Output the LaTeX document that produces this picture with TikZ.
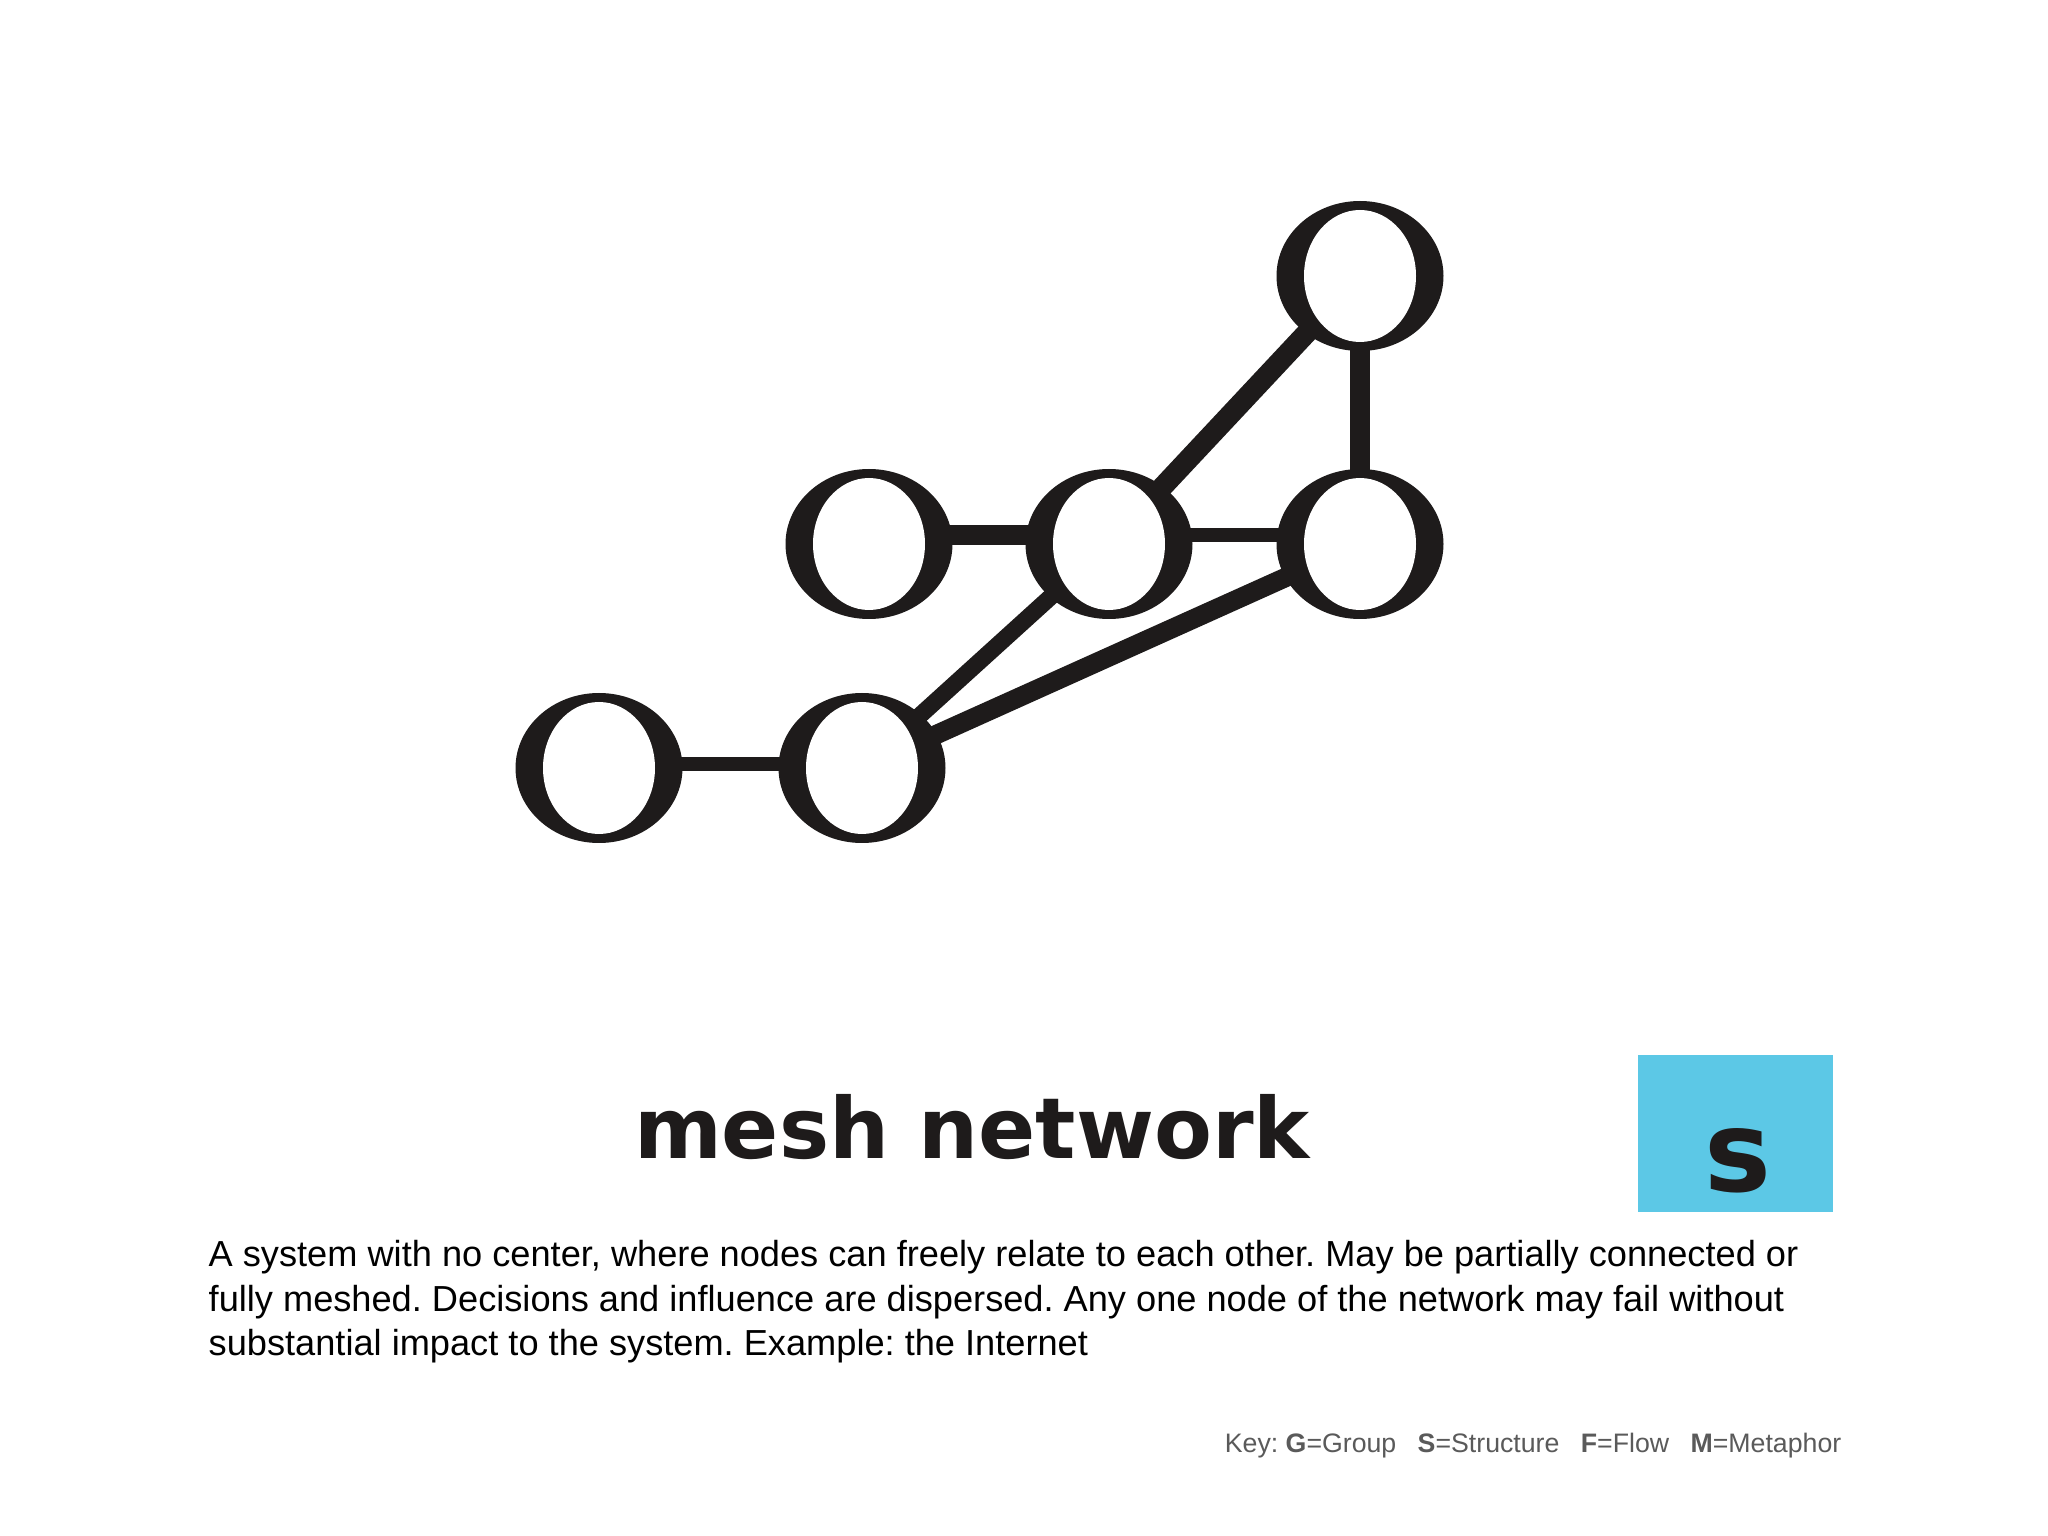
\documentclass[tikz,border=0pt]{standalone}
\usepackage{fontspec}
\setmainfont{Liberation Sans}
\newfontfamily\titlefont{DejaVu Sans}
\usetikzlibrary{positioning,shapes.geometric,backgrounds}
\definecolor{inkblack}{RGB}{30,27,27}
\definecolor{tagblue}{RGB}{92,200,230}
\definecolor{keygray}{RGB}{90,90,90}
\tikzset{
	ring/.style={ellipse, fill=inkblack, inner sep=0pt, minimum width=1.67cm, minimum height=1.5cm,
		path picture={\fill[white, shift={(path picture bounding box.center)}, rotate=14] (0,0) ellipse (0.56cm and 0.66cm);}},
	link/.style={draw=inkblack, line width=#1},
}

\begin{document}
\frenchspacing
\begin{tikzpicture}
	\useasboundingbox (0,0) rectangle (20.48,-15.36);

	% the mesh
	\node (tr) [ring] at (13.60,-2.76) {};
	\node (rm) [ring] at (13.60,-5.44) {};
	\node (m) [ring] at (11.09,-5.44) {};
	\node (lm) [ring] at (8.69,-5.44) {};
	\node (bl) [ring] at (5.99,-7.68) {};
	\node (bm) [ring] at (8.62,-7.68) {};

	\begin{scope}[on background layer]
		\fill[white] (0,0) rectangle (20.48,-15.36);
		\draw[link=5.7pt] ([yshift=0.09cm]lm.center) -- ([yshift=0.09cm]m.center);
		\draw[link=4pt] ([yshift=0.09cm]m.center) -- ([yshift=0.09cm]rm.center);
		\draw[link=5.7pt] (tr.center) -- (rm.center);
		\draw[link=5.9pt] (m.center) -- (tr.center);
		\draw[link=4pt] ([yshift=0.04cm]bl.center) -- ([yshift=0.04cm]bm.center);
		\draw[link=4.8pt] (bm.center) -- (m.center);
		\draw[link=5.5pt] (bm.center) -- (rm.center);
	\end{scope}

	% title and tag
	\node (title) [anchor=base, text=inkblack, font=\titlefont\bfseries\fontsize{24}{28}\selectfont] at (9.72,-11.58) {mesh network};
	\node (tag) [anchor=north west, fill=tagblue, inner sep=0pt, minimum width=1.95cm, minimum height=1.57cm] at (16.37,-10.54) {};
	\node (s) [anchor=base, text=inkblack, font=\titlefont\bfseries\fontsize{32}{36}\selectfont] at (17.38,-11.91) {s};

	% description and key
	\node (desc) [anchor=north west, align=left, inner sep=0pt, font=\fontsize{10.3}{12.6}\selectfont] at (2.08,-12.40)
		{A system with no center, where nodes can freely relate to each other. May be partially connected or\\
		fully meshed. Decisions and influence are dispersed. Any one node of the network may fail without\\
		substantial impact to the system. Example: the Internet};
	\node (key) [anchor=base east, inner sep=0pt, text=keygray, font=\fontsize{7.6}{9}\selectfont] at (18.42,-14.52)
		{Key: \textbf{G}=Group\hspace{0.8em}\textbf{S}=Structure\hspace{0.8em}\textbf{F}=Flow\hspace{0.8em}\textbf{M}=Metaphor};
\end{tikzpicture}
\end{document}
